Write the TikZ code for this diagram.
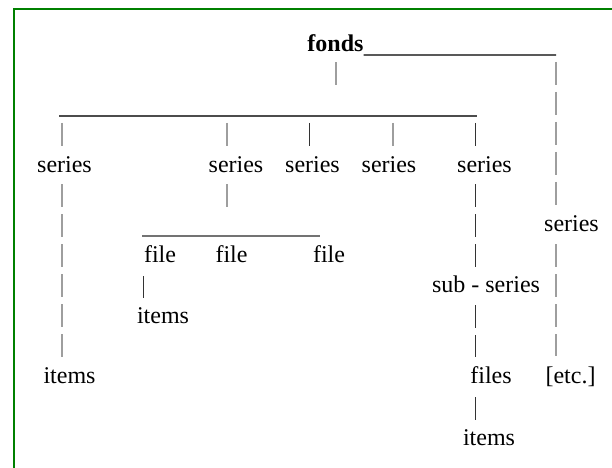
\documentclass[tikz,border=0pt]{standalone}
\usepackage{fontspec}
\setmainfont{Liberation Serif}
\usetikzlibrary{calc,positioning}

\tikzset{
  lbl/.style={inner sep=0pt, anchor=base, font=\fontsize{24bp}{28bp}\selectfont},
  pipe/.style={draw=black!38, line width=1.1bp, dash pattern=on 23bp off 7bp},
  darkpipe/.style={pipe, draw=black!80, line width=0.9bp},
  rule/.style={draw=black!65, line width=1.2bp},
}

\begin{document}
\begin{tikzpicture}[x=1bp, y=-1bp]
\useasboundingbox (0,0) rectangle (612,468);
\draw[green!50!black, line width=2bp] (14,468) -- (14,9) -- (612,9);

\node[lbl, font=\fontsize{24bp}{28bp}\selectfont\bfseries] (fonds) at (335.5,52) {fonds};

\node[lbl] (ser1) at (64.5,173) {series};
\node[lbl] (ser2) at (236,173) {series};
\node[lbl] (ser3) at (312.5,173) {series};
\node[lbl] (ser4) at (389,173) {series};
\node[lbl] (ser5) at (484.5,173) {series};
\node[lbl] (serR) at (571.5,232) {series};

\node[lbl] (file1) at (160,263) {file};
\node[lbl] (file2) at (231.5,263) {file};
\node[lbl] (file3) at (329,263) {file};

\node[lbl] (sub) at (486,293) {sub - series};
\node[lbl] (items2) at (163,323) {items};
\node[lbl] (items1) at (69.5,383) {items};
\node[lbl] (files) at (491,383) {files};
\node[lbl] (etc) at (570.5,383) {[etc.]};
\node[lbl] (items3) at (489,445) {items};

% underscores
\coordinate (busL) at (59,116);
\coordinate (busR) at (477,116);
\coordinate (d0) at (336,116);
\coordinate (d1) at (62,116);
\coordinate (d2) at (227,116);
\coordinate (d3) at (309,116);
\coordinate (d4) at (393,116);
\coordinate (d5) at (475,116);
\coordinate (fL) at (142,236);
\coordinate (fR) at (320,236);
\coordinate (r0) at (556,55);

\draw[rule, draw=black!70] (busL) -- (busR);
\draw[rule, draw=black!55] (fL) -- (fR);
\draw[rule, draw=black] ([yshift=-3bp]fonds.base east) -- (r0);

% pipes
\draw[pipe, shorten <=10bp, shorten >=31bp] (fonds.south -| d0) -- (d0);
\draw[pipe, shorten <=7bp, shorten >=10.6bp] (d1) -- (d1 |- ser1.north);
\draw[pipe, shorten <=7bp, shorten >=10.6bp] (d2) -- (d2 |- ser2.north);
\draw[darkpipe, shorten <=7bp, shorten >=10.6bp] (d3) -- (d3 |- ser3.north);
\draw[pipe, shorten <=7bp, shorten >=10.6bp] (d4) -- (d4 |- ser4.north);
\draw[darkpipe, shorten <=7bp, shorten >=10.6bp] (d5) -- (d5 |- ser5.north);

\draw[pipe, shorten <=11bp, shorten >=9.6bp] (d1 |- ser1.south) -- (d1 |- items1.north);
\draw[pipe, shorten <=11bp, shorten >=29bp] (d2 |- ser2.south) -- (d2 |- fL);
\draw[darkpipe, shorten <=13bp, shorten >=8.6bp] (file1.south west) -- (file1.south west |- items2.north);

\draw[darkpipe, shorten <=11bp, shorten >=9.6bp] (d5 |- ser5.south) -- (d5 |- sub.north);
\draw[darkpipe, shorten <=12bp, shorten >=8.6bp] (d5 |- sub.south) -- (d5 |- files.north);
\draw[darkpipe, shorten <=14bp, shorten >=8.6bp] (d5 |- files.south) -- (d5 |- items3.north);

\draw[pipe, shorten <=7bp, shorten >=8.6bp] (r0) -- (r0 |- serR.north);
\draw[pipe, shorten <=12bp, shorten >=10bp] (r0 |- serR.south) -- (r0 |- etc.north);

\end{tikzpicture}
\end{document}
